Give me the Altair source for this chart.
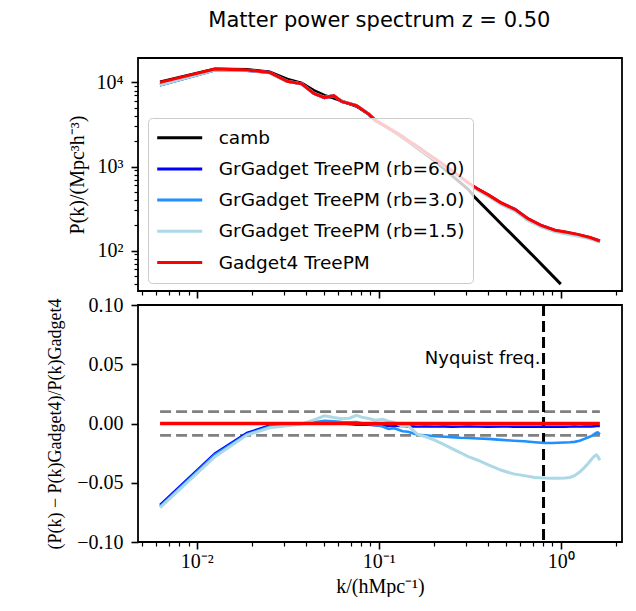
import altair as alt
import pandas as pd

# ---------------- data ----------------
names = ["camb", "GrGadget TreePM (rb=6.0)", "GrGadget TreePM (rb=3.0)",
         "GrGadget TreePM (rb=1.5)", "Gadget4 TreePM"]
colors = ["#000000", "#0000ff", "#1e90ff", "#add8e6", "#ff0000"]

k_sim = [0.00628, 0.01257, 0.01885, 0.02513, 0.0314, 0.0377, 0.0440, 0.0503, 0.0565, 0.0628,
         0.0691, 0.0754, 0.0817, 0.0880, 0.0953, 0.105, 0.1226, 0.135, 0.145, 0.165,
         0.1866, 0.21, 0.24, 0.27, 0.31, 0.35, 0.40, 0.47, 0.56, 0.66,
         0.78, 0.93, 1.08, 1.24, 1.45, 1.64]
p_gadget4 = [10000, 14400, 14000, 13100, 10300, 9600, 7400, 6600, 6950, 5900,
             5600, 5300, 4700, 4200, 3550, 3150, 2580, 2280, 2030, 1700,
             1400, 1180, 960, 800, 640, 540, 460, 370, 310, 240,
             200, 175, 165, 156, 143, 130]
p_rb6 = [9314, 14040, 13890, 13080, 10300, 9600, 7400, 6600, 6950, 5900,
         5600, 5300, 4700, 4200, 3550, 3150, 2575, 2275, 2025, 1696,
         1396, 1177, 957, 798, 638, 538, 459, 369, 309, 239,
         199, 174, 164, 155, 142, 130]
p_rb3 = [9300, 14020, 13874, 13070, 10300, 9600, 7400, 6600, 6950, 5900,
         5600, 5300, 4700, 4200, 3550, 3145, 2568, 2265, 2016, 1684,
         1385, 1167, 949, 790, 632, 533, 454, 365, 305, 236,
         197, 172, 162, 154, 141, 129]
p_rb15 = [9290, 14000, 13860, 13050, 10300, 9600, 7430, 6630, 6990, 5930,
          5630, 5330, 4720, 4220, 3560, 3155, 2580, 2275, 2025, 1683,
          1378, 1160, 940, 780, 621, 522, 442, 355, 297, 229,
          191, 167, 158, 149, 138, 126]

k_camb = [0.00628, 0.01257, 0.01885, 0.02513, 0.0314, 0.0377, 0.0440, 0.0503, 0.0565, 0.0628,
          0.0754, 0.0880, 0.0953, 0.1226, 0.145, 0.1866, 0.21, 0.24, 0.27, 0.31,
          0.337, 0.5, 0.7, 1.0]
p_camb = [10100, 14400, 14200, 13300, 10900, 9800, 8000, 7000, 6500, 6000,
          5200, 4200, 3600, 2550, 1980, 1330, 1100, 860, 690, 535,
          430, 182, 88, 40]

k_ratio = [0.00628, 0.01257, 0.01885, 0.02513, 0.0314, 0.0377, 0.0440, 0.0503, 0.0565, 0.0628,
           0.0691, 0.0754, 0.0817, 0.0880, 0.0953, 0.105, 0.113, 0.122, 0.135, 0.145,
           0.155, 0.164, 0.18, 0.204, 0.23, 0.251, 0.28, 0.31, 0.35, 0.40,
           0.472, 0.55, 0.63, 0.72, 0.82, 0.90, 0.966, 1.05, 1.12, 1.19,
           1.27, 1.35, 1.41, 1.48, 1.53, 1.57, 1.60, 1.64]
r_rb6 = [-0.0686, -0.0252, -0.0079, -0.0017, -0.0005, 0.0, 0.0005, 0.001, 0.0005, 0.0,
         -0.0005, -0.001, -0.001, -0.0012, -0.0015, -0.0018, -0.002, -0.002, -0.0022, -0.0025,
         -0.0024, -0.0026, -0.0025, -0.0026, -0.0025, -0.0027, -0.0026, -0.0025, -0.0026, -0.0027,
         -0.0026, -0.0027, -0.0028, -0.0027, -0.0028, -0.0027, -0.0026, -0.0027, -0.0026, -0.0025,
         -0.0026, -0.0025, -0.0024, -0.0025, -0.0023, -0.0022, -0.0021, -0.0022]
r_rb3 = [-0.070, -0.0265, -0.009, -0.0025, -0.001, 0.0, 0.001, 0.0022, 0.0018, 0.0012,
         0.001, 0.0012, 0.0, -0.0005, -0.001, -0.0025, -0.0045, -0.004, -0.0065, -0.007,
         -0.0085, -0.0095, -0.010, -0.0108, -0.0112, -0.0115, -0.012, -0.0122, -0.0126, -0.013,
         -0.0138, -0.0145, -0.015, -0.0158, -0.0165, -0.0165, -0.0163, -0.016, -0.0158, -0.0155,
         -0.0145, -0.013, -0.0118, -0.0105, -0.009, -0.0078, -0.0075, -0.0092]
r_rb15 = [-0.071, -0.028, -0.0098, -0.0036, -0.002, -0.0005, 0.003, 0.0065, 0.005, 0.004,
          0.0045, 0.0068, 0.005, 0.0042, 0.0028, 0.0035, 0.002, 0.001, -0.0025, -0.002,
          -0.006, -0.0095, -0.011, -0.0142, -0.018, -0.021, -0.0245, -0.028, -0.031, -0.035,
          -0.0395, -0.0425, -0.044, -0.0455, -0.046, -0.0462, -0.0463, -0.046, -0.0455, -0.044,
          -0.041, -0.037, -0.034, -0.030, -0.0275, -0.0265, -0.028, -0.031]
r_gadget4 = [0.0 for _ in k_ratio]

band_levels = [0.01, -0.01]
k_nyquist = 0.804
nyquist_label = "Nyquist freq."

x_major_ticks = [0.01, 0.1, 1.0]
x_minor_ticks = [0.005, 0.006, 0.007, 0.008, 0.009,
                 0.02, 0.03, 0.04, 0.05, 0.06, 0.07, 0.08, 0.09,
                 0.2, 0.3, 0.4, 0.5, 0.6, 0.7, 0.8, 0.9, 2.0]
y_top_major = [100, 1000, 10000]
y_top_minor = [40, 50, 60, 70, 80, 90, 200, 300, 400, 500, 600, 700, 800, 900,
               2000, 3000, 4000, 5000, 6000, 7000, 8000, 9000]
y_bot_ticks = [-0.10, -0.05, 0.0, 0.05, 0.10]

# ---------------- tables ----------------
def series_df(k, v, name):
    return pd.DataFrame({"k": k, "v": v, "series": name})

df_camb = series_df(k_camb, p_camb, names[0])
df_t6 = series_df(k_sim, p_rb6, names[1])
df_t3 = series_df(k_sim, p_rb3, names[2])
df_t15 = series_df(k_sim, p_rb15, names[3])
df_tg = series_df(k_sim, p_gadget4, names[4])

df_b6 = series_df(k_ratio, r_rb6, names[1])
df_b3 = series_df(k_ratio, r_rb3, names[2])
df_b15 = series_df(k_ratio, r_rb15, names[3])
df_bg = series_df(k_ratio, r_gadget4, names[4])

df_band = pd.DataFrame({"y": band_levels, "k0": k_ratio[0], "k1": k_ratio[-1]})
df_nyq = pd.DataFrame({"k": [k_nyquist], "y": [0.05], "label": [nyquist_label]})

# ---------------- scales & axes ----------------
SERIF = "Liberation Serif"
SANS = "DejaVu Sans"
xs = alt.Scale(type="log", domain=[0.00475, 2.17], nice=False)
ys_top = alt.Scale(type="log", domain=[33.1, 19500], nice=False)
ys_bot = alt.Scale(domain=[-0.1, 0.1], nice=False)
cs = alt.Scale(domain=names, range=colors)

common = dict(domain=False, grid=False, tickColor="black", labelColor="black")

x_minor_top = alt.Axis(values=x_minor_ticks, labels=False, tickSize=4, tickWidth=1.2,
                       title=None, orient="bottom", **common)
x_major_top = alt.Axis(values=x_major_ticks, labels=False, tickSize=7, tickWidth=1.6,
                       title=None, orient="bottom", **common)
x_minor_bot = alt.Axis(values=x_minor_ticks, labels=False, tickSize=4, tickWidth=1.2,
                       title=None, orient="bottom", **common)
x_major_bot = alt.Axis(values=x_major_ticks, tickSize=7, tickWidth=1.6, orient="bottom",
                       labelExpr="datum.value == 0.01 ? '10⁻²' : datum.value == 0.1 ? '10⁻¹' : '10⁰'",
                       labelFont=SERIF, labelFontSize=20, labelPadding=2,
                       title="k/(hMpc⁻¹)", titleFont=SERIF, titleFontSize=20,
                       titleFontWeight="normal", titlePadding=5, **common)
y_top_minor_axis = alt.Axis(values=y_top_minor, labels=False, tickSize=4, tickWidth=1.2,
                            title=None, orient="left", **common)
y_top_major_axis = alt.Axis(values=y_top_major, tickSize=7, tickWidth=1.6, orient="left",
                            labelExpr="datum.value == 100 ? '10²' : datum.value == 1000 ? '10³' : '10⁴'",
                            labelFont=SERIF, labelFontSize=20, labelPadding=8,
                            title="P(k)/(Mpc³h⁻³)", titleFont=SERIF, titleFontSize=20,
                            titleFontWeight="normal", titlePadding=9, **common)
y_bot_axis = alt.Axis(values=y_bot_ticks, tickSize=7, tickWidth=1.6, orient="left",
                      format=".2f", labelFont=SERIF, labelFontSize=20, labelPadding=8,
                      title="(P(k) − P(k)Gadget4)/P(k)Gadget4", titleFont=SERIF,
                      titleFontSize=18, titleFontWeight="normal", titlePadding=12, **common)

legend = alt.Legend(title=None, orient="none", legendX=10, legendY=60,
                    symbolType="stroke", symbolSize=2025, symbolStrokeWidth=3,
                    clipHeight=24, rowPadding=7.2, padding=7.7, labelOffset=15,
                    labelFont=SANS, labelFontSize=18.5, labelColor="black", labelLimit=0,
                    fillColor="rgba(255,255,255,0.8)", strokeColor="#cccccc",
                    cornerRadius=4)


def line(df, width, yscale, xaxis=None, yaxis=None, leg=None):
    return alt.Chart(df).mark_line(strokeWidth=width, clip=True).encode(
        x=alt.X("k:Q", scale=xs, axis=xaxis),
        y=alt.Y("v:Q", scale=yscale, axis=yaxis),
        color=alt.Color("series:N", scale=cs, legend=leg),
    )


top = alt.layer(
    line(df_camb, 3, ys_top, x_minor_top, y_top_minor_axis, legend),
    line(df_t6, 3, ys_top, x_major_top, y_top_major_axis, legend),
    line(df_t3, 3, ys_top, None, None, legend),
    line(df_t15, 3, ys_top, None, None, legend),
    line(df_tg, 3, ys_top, None, None, legend),
).resolve_axis(x="independent", y="independent").properties(width=484, height=233)

band = alt.Chart(df_band).mark_rule(color="#808080", strokeWidth=2.7, strokeDash=[11, 5]).encode(
    x=alt.X("k0:Q", scale=xs, axis=None), x2="k1:Q",
    y=alt.Y("y:Q", scale=ys_bot, axis=None))
nyq = alt.Chart(df_nyq).mark_rule(color="black", strokeWidth=3, strokeDash=[11, 5]).encode(
    x=alt.X("k:Q", scale=xs, axis=None))
nyq_text = alt.Chart(df_nyq).mark_text(align="right", baseline="alphabetic", dx=-3,
                                       font=SANS, fontSize=18, color="black").encode(
    x=alt.X("k:Q", scale=xs, axis=None), y=alt.Y("y:Q", scale=ys_bot, axis=None), text="label:N")

bottom = alt.layer(
    band, nyq, nyq_text,
    line(df_b6, 2.4, ys_bot, x_minor_bot, y_bot_axis, None),
    line(df_b3, 2.6, ys_bot, x_major_bot, None, None),
    line(df_b15, 3, ys_bot, None, None, None),
    line(df_bg, 3.5, ys_bot, None, None, None),
).resolve_axis(x="independent", y="independent").properties(width=484, height=237)

chart = alt.vconcat(top, bottom, spacing=14).resolve_scale(color="independent").resolve_legend(
    color="independent").properties(
    bounds="flush",
    title=alt.TitleParams("Matter power spectrum z = 0.50", font=SANS, fontSize=21,
                          fontWeight="normal", anchor="middle", offset=26, dx=45,
                          color="black"),
    padding={"left": 37, "top": 2, "right": 0, "bottom": 0},
).configure_view(stroke="black", strokeWidth=1.8)

chart.save("out.html", embed_options={"renderer": "svg", "actions": False})
